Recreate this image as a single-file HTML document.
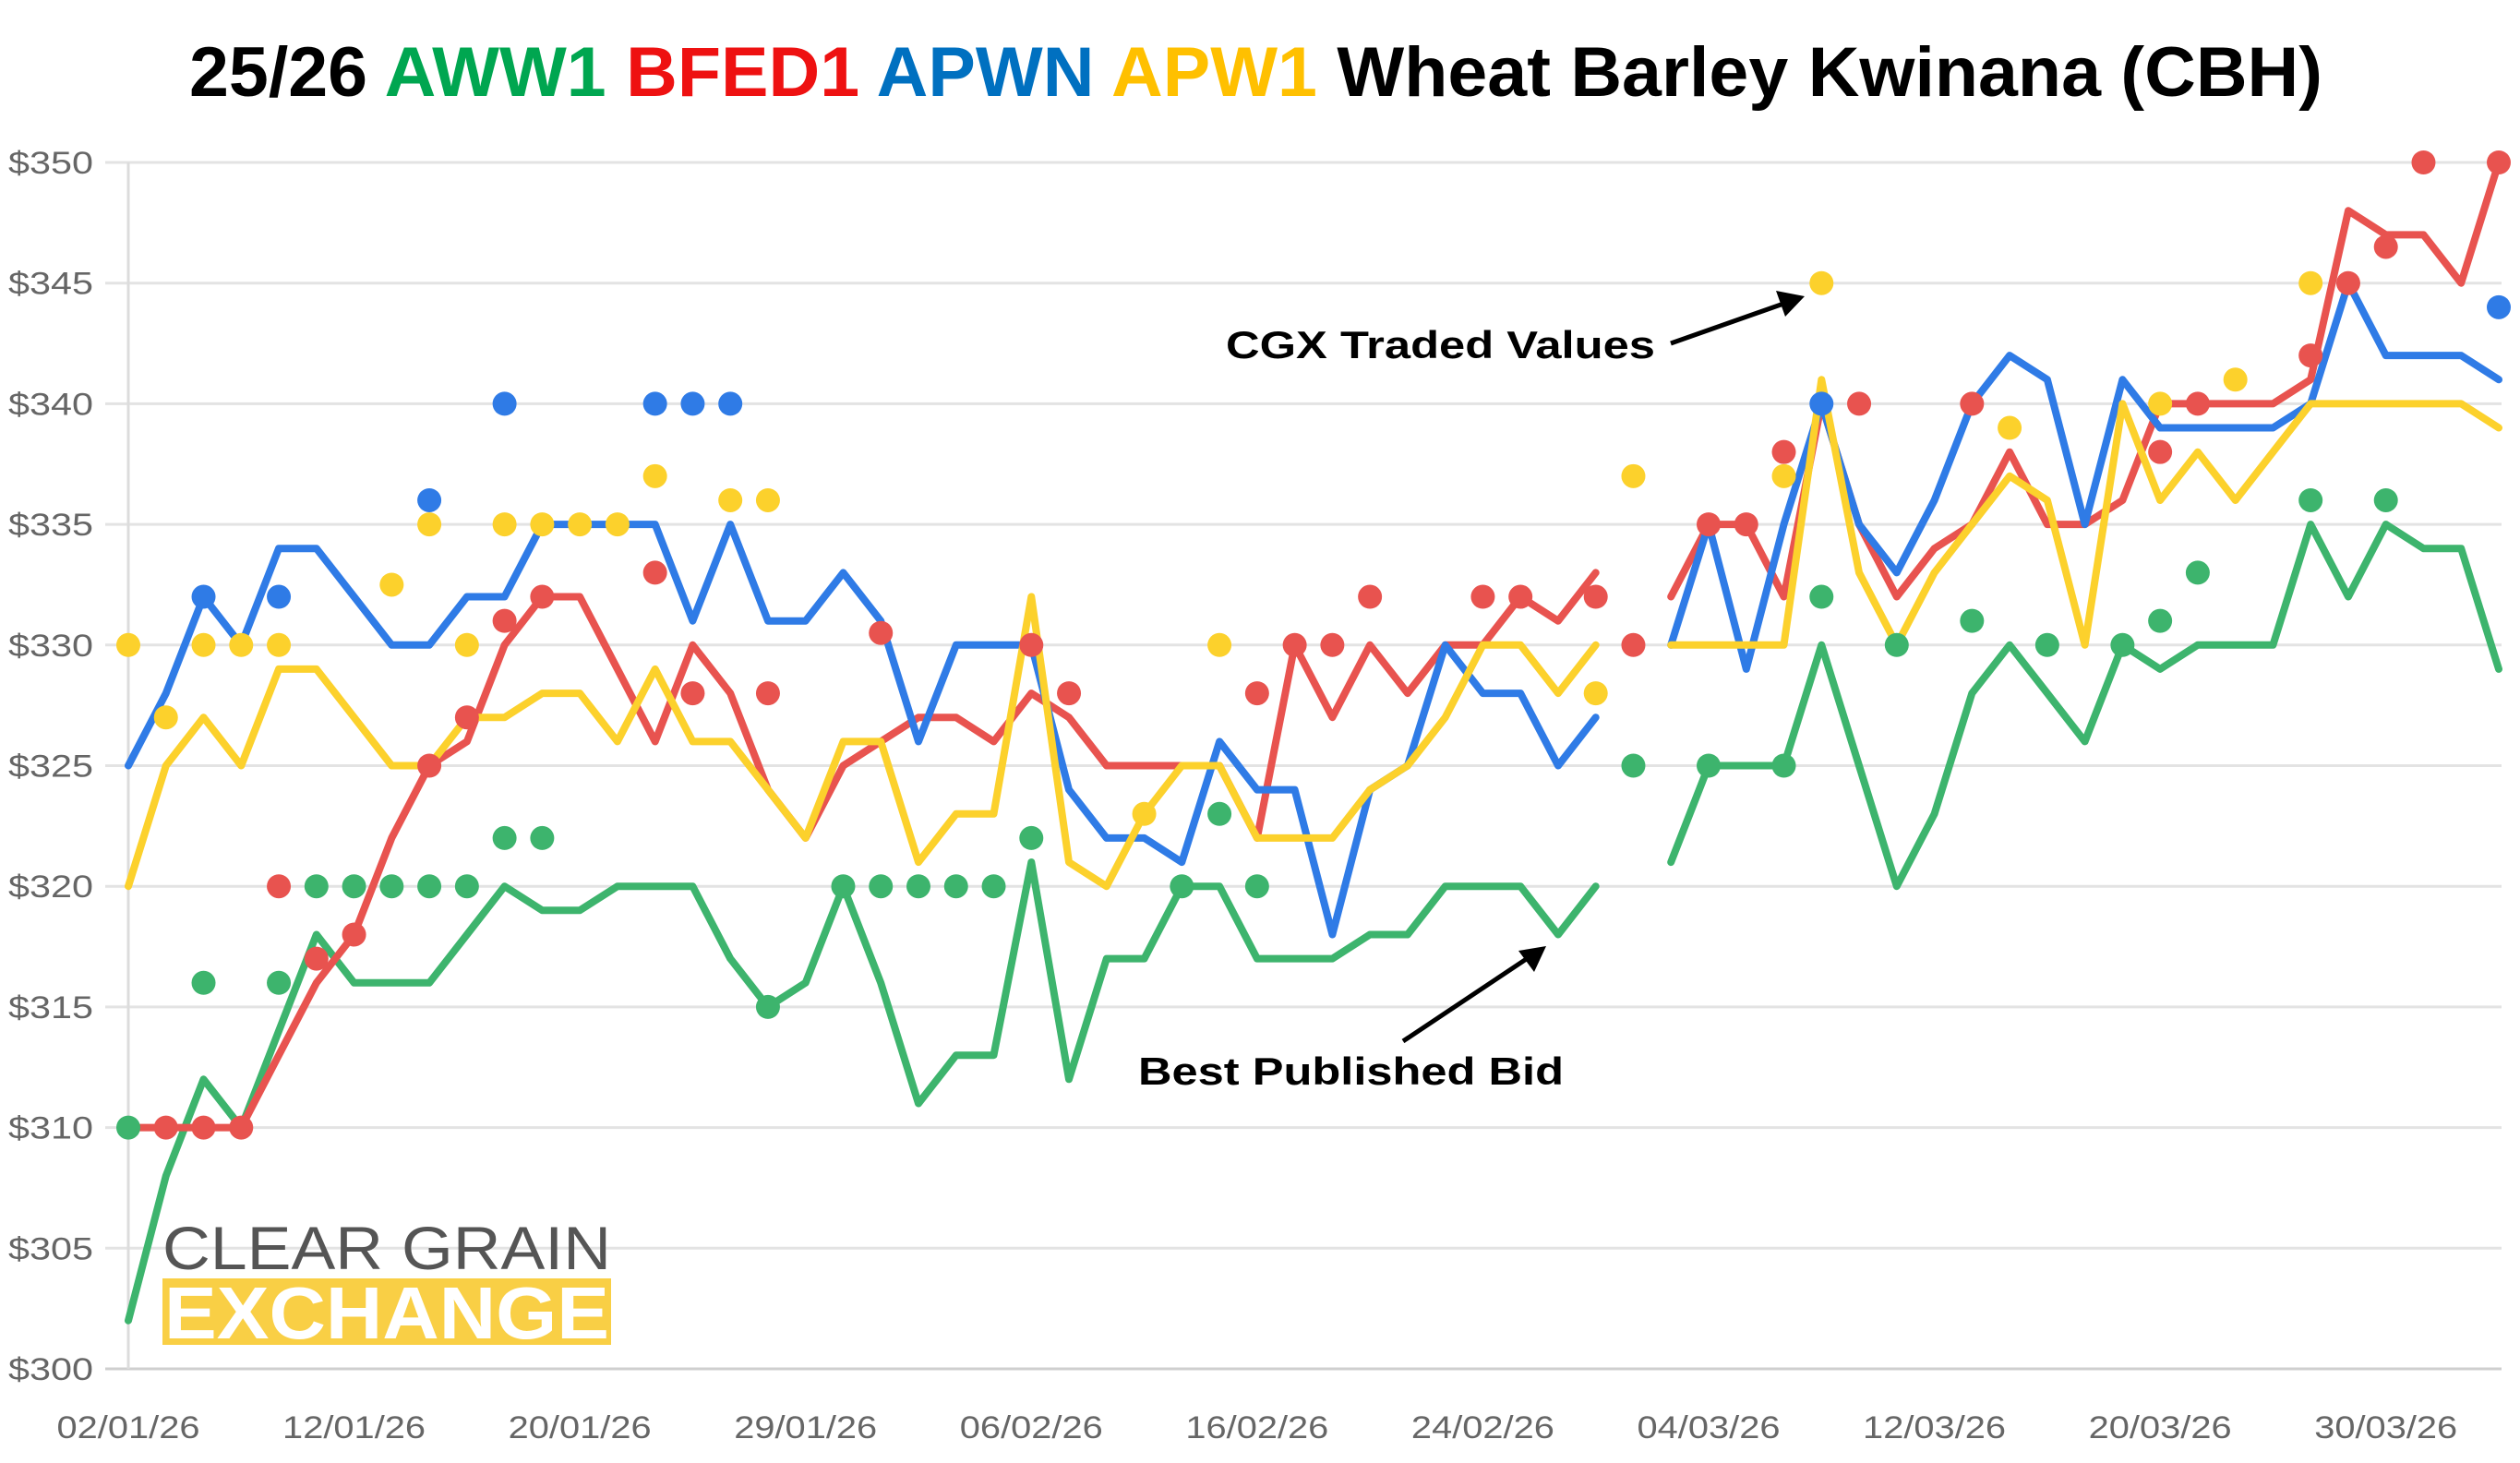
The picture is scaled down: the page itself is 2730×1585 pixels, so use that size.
<!DOCTYPE html>
<html><head><meta charset="utf-8"><style>
html,body{margin:0;padding:0;background:#fff;}
svg{display:block;}
</style></head><body>
<svg id="chart" xmlns="http://www.w3.org/2000/svg" width="2730" height="1585" viewBox="0 0 2730 1585">
<rect width="2730" height="1585" fill="#fff"/>
<text x="205" y="104" font-family="'Liberation Sans', sans-serif" font-weight="bold" font-size="76" textLength="2311" lengthAdjust="spacingAndGlyphs"><tspan fill="#000">25/26 </tspan><tspan fill="#00a650">AWW1 </tspan><tspan fill="#ee1111">BFED1 </tspan><tspan fill="#0070c0">APWN </tspan><tspan fill="#ffc000">APW1 </tspan><tspan fill="#000">Wheat Barley Kwinana (CBH)</tspan></text>
<g id="grid"></g>
<g id="logo">
<text x="176" y="1375" font-family="'Liberation Sans', sans-serif" font-size="66" fill="#555" textLength="486" lengthAdjust="spacingAndGlyphs">CLEAR GRAIN</text>
<rect x="176" y="1385" width="486" height="72" fill="#f9cf45"/>
<text x="178" y="1450" font-family="'Liberation Sans', sans-serif" font-weight="bold" font-size="80" fill="#fff" textLength="482" lengthAdjust="spacingAndGlyphs">EXCHANGE</text>
</g>
<g id="series"></g>
<g id="annotations">
<text x="1328" y="388" font-family="'Liberation Sans', sans-serif" font-weight="bold" font-size="42" fill="#000" textLength="465" lengthAdjust="spacingAndGlyphs">CGX Traded Values</text>
<line x1="1810" y1="372" x2="1935" y2="328" stroke="#000" stroke-width="5"/>
<polygon points="1955,321 1924,315 1934,343" fill="#000"/>
<text x="1233" y="1175" font-family="'Liberation Sans', sans-serif" font-weight="bold" font-size="42" fill="#000" textLength="461" lengthAdjust="spacingAndGlyphs">Best Published Bid</text>
<line x1="1520" y1="1128" x2="1658" y2="1036" stroke="#000" stroke-width="5"/>
<polygon points="1675,1025 1645,1030 1662,1053" fill="#000"/>
</g>
</svg>
<script>
const categories = ["02/01/26","","","","","","12/01/26","","","","","","20/01/26","","","","","","29/01/26","","","","","","06/02/26","","","","","","16/02/26","","","","","","24/02/26","","","","","","04/03/26","","","","","","12/03/26","","","","","","20/03/26","","","","","","30/03/26","","",""];
const yTicks = [300,305,310,315,320,325,330,335,340,345,350];
const N = null;
const apwnLine = [325,328,332,330,334,334,332,330,330,332,332,335,335,335,335,331,335,331,331,333,331,326,330,330,330,324,322,322,321,326,324,324,318,324,325,330,328,328,325,327,N,330,335,329,335,340,335,333,336,340,342,341,335,341,339,339,339,339,340,345,342,342,342,341];
const bfedLine = [310,310,310,310,313,316,318,322,325,326,330,332,332,329,326,330,328,324,322,325,326,327,327,326,328,327,325,325,325,325,322,330,327,330,328,330,330,332,331,333,N,332,335,335,332,340,335,332,334,335,338,335,335,336,340,340,340,340,341,348,347,347,345,350];
const apw1Line = [320,325,327,325,329,329,327,325,325,327,327,328,328,326,329,326,326,324,322,326,326,321,323,323,332,321,320,323,325,325,322,322,322,324,325,327,330,330,328,330,N,330,330,330,330,341,333,330,333,335,337,336,330,340,336,338,336,338,340,340,340,340,340,339];
const awwLine = [302,308,312,310,314,318,316,316,316,318,320,319,319,320,320,320,317,315,316,320,316,311,313,313,321,312,317,317,320,320,317,317,317,318,318,320,320,320,318,320,N,321,325,325,325,330,325,320,323,328,330,328,326,330,329,330,330,330,335,332,335,334,334,329];
const apwnDots = {2:332,4:332,8:336,10:340,14:340,15:340,16:340,45:340,63:344};
const apw1Dots = {0:330,1:327,2:330,3:330,4:330,7:332.5,8:335,9:330,10:335,11:335,12:335,13:335,14:337,16:336,17:336,27:323,29:330,39:328,40:337,44:337,45:345,50:339,54:340,56:341,58:345};
const bfedDots = {1:310,2:310,3:310,4:320,5:317,6:318,8:325,9:327,10:331,11:332,14:333,15:328,17:328,20:330.5,24:330,25:328,30:328,31:330,32:330,33:332,36:332,37:332,39:332,40:330,42:335,43:335,44:338,46:340,49:340,54:338,55:340,58:342,59:345,60:346.5,61:350,63:350};
const awwDots = {0:310,2:316,4:316,5:320,6:320,7:320,8:320,9:320,10:322,11:322,17:315,19:320,20:320,21:320,22:320,23:320,24:322,28:320,29:323,30:320,40:325,42:325,44:325,45:332,47:330,49:331,51:330,53:330,54:331,55:333,58:336,60:336};

const NS = "http://www.w3.org/2000/svg";
const X0 = 139, X1 = 2707, YTOP = 176, YBOT = 1483, VMIN = 300, VMAX = 350;
function xPos(i){ return X0 + i*(X1-X0)/(categories.length-1); }
function yPos(v){ return YBOT - (v-VMIN)*(YBOT-YTOP)/(VMAX-VMIN); }
function mk(tag, attrs, parent){ const e=document.createElementNS(NS,tag); for(const k in attrs) e.setAttribute(k,attrs[k]); parent.appendChild(e); return e; }

const grid = document.getElementById('grid');
yTicks.forEach(v=>{
  const y=yPos(v);
  const gl = mk('line',{x1:114,x2:2710,y1:y,y2:y,stroke: v===VMIN?'#cfcfcf':'#e3e3e3','stroke-width':3},grid);
  
  
  const t = mk('text',{x:101,y:y+12,'text-anchor':'end','font-family':"'Liberation Sans', sans-serif",'font-size':34,fill:'#666',textLength:92,lengthAdjust:'spacingAndGlyphs'},grid);
  t.textContent='$'+v;
  
  
});
const ax = mk('line',{x1:X0,x2:X0,y1:YTOP,y2:YBOT,stroke:'#dcdcdc','stroke-width':3},grid);


categories.forEach((c,i)=>{
  if(!c) return;
  const t = mk('text',{x:xPos(i),y:1558,'text-anchor':'middle','font-family':"'Liberation Sans', sans-serif",'font-size':34,fill:'#666',textLength:155,lengthAdjust:'spacingAndGlyphs'},grid);
  t.textContent=c;
  
  
});

const series = document.getElementById('series');
function drawLine(arr,color,name){
  let d='', pen=false;
  arr.forEach((v,i)=>{
    if(v===null){pen=false;return;}
    d += (pen?'L':'M')+xPos(i).toFixed(1)+' '+yPos(v).toFixed(1)+' ';
    pen=true;
  });
  const p = mk('path',{d:d,fill:'none',stroke:color,'stroke-width':8,'stroke-linejoin':'round','stroke-linecap':'round'},series);
  
  
}
function drawDots(obj,color,name){
  Object.keys(obj).forEach(k=>{
    const c = mk('circle',{cx:xPos(+k),cy:yPos(obj[k]),r:13,fill:color},series);
    
    
  });
}
const GREEN='#3db46d', RED='#e8534f', BLUE='#2f7be6', YELLOW='#fcd12c';
drawLine(awwLine,GREEN,'aww1-bid-line');
drawLine(bfedLine,RED,'bfed1-bid-line');
drawLine(apwnLine,BLUE,'apwn-bid-line');
drawLine(apw1Line,YELLOW,'apw1-bid-line');
drawDots(awwDots,GREEN,'aww1-traded-point');
drawDots(bfedDots,RED,'bfed1-traded-point');
drawDots(apwnDots,BLUE,'apwn-traded-point');
drawDots(apw1Dots,YELLOW,'apw1-traded-point');
</script>
</body></html>
